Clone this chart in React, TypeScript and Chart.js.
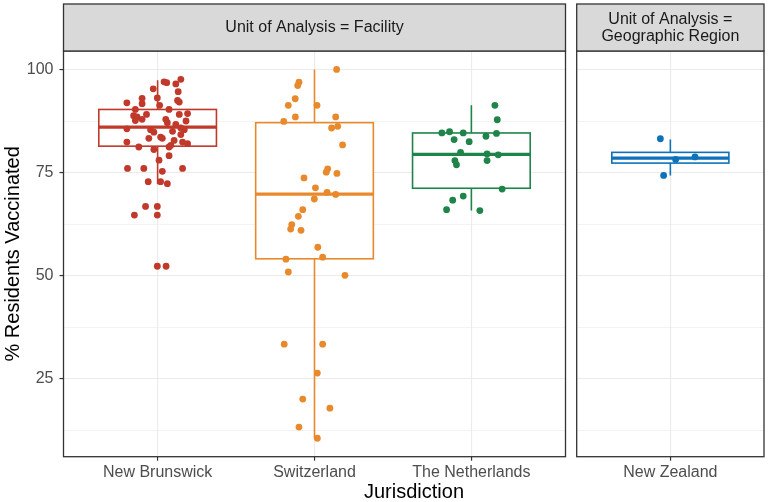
import React, { useEffect, useRef } from "react";
import { Chart, registerables } from "chart.js";

Chart.register(...registerables);

// ---------- data ----------
const facilityCategories = ["New Brunswick", "Switzerland", "The Netherlands"];
const regionCategories = ["New Zealand"];

const facilityStrip = ["Unit of Analysis = Facility"];
const regionStrip = ["Unit of Analysis =", "Geographic Region"];

const yTickValues = [12.5, 25, 37.5, 50, 62.5, 75, 87.5, 100];
const yTickLabels = ["", "25", "", "50", "", "75", "", "100"];

const newBrunswickValues = [
  97.0, 96.8, 96.5, 97.6, 95.3, 94.6, 93.0, 93.1, 91.9, 91.7,
  92.5, 92.1, 91.3, 90.3, 90.3, 89.1, 88.8, 88.5, 89.1, 89.3,
  87.9, 87.6, 87.9, 87.5, 87.1, 86.7, 85.6, 85.4, 85.0, 85.8,
  85.4, 84.8, 84.2, 83.3, 83.6, 83.3, 82.8, 82.4, 81.2, 81.2,
  81.6, 82.4, 82.0, 80.6, 79.1, 78.0, 76.0, 76.0, 76.0, 75.3,
  72.8, 72.8, 72.3, 66.8, 66.8, 64.7, 64.7, 52.3, 52.3,
];
const newBrunswickJitter = [
  0.041, 0.058, 0.116, 0.148, -0.028, 0.131, -0.099, -0.002, -0.196, -0.099,
  0.127, 0.138, 0.013, 0.073, -0.142, -0.071, -0.153, -0.131, 0.138, 0.191,
  -0.099, -0.142, 0.052, 0.181, 0.062, 0.116, -0.196, -0.045, 0.095, 0.148,
  0.17, -0.024, 0.148, -0.056, 0.019, 0.03, 0.105, -0.196, -0.12, 0.073,
  0.084, 0.159, 0.191, -0.024, 0.073, 0.009, -0.192, -0.088, 0.159, 0.03,
  -0.06, 0.019, 0.062, -0.077, -0.002, -0.148, -0.002, -0.002, 0.054,
];

const switzerlandValues = [
  100, 96.9, 96.1, 92.9, 91.3, 91.3, 88.5, 88.5, 87.4, 85.8,
  86.2, 81.7, 75.9, 75.1, 74.8, 73.7, 71.3, 70.2, 69.7, 68.6,
  66.0, 64.4, 62.4, 61.3, 61.0, 56.9, 54.0, 54.5, 50.9, 50.1,
  33.4, 33.4, 26.4, 20.1, 17.9, 13.3, 10.6,
];
const switzerlandJitter = [
  0.141, -0.099, -0.107, -0.123, -0.167, 0.016, -0.122, 0.135, -0.196, 0.109,
  0.148, 0.179, 0.084, 0.075, 0.143, -0.067, 0.006, 0.08, 0.135, -0.001,
  -0.075, -0.103, -0.145, -0.152, -0.086, 0.021, -0.182, 0.052, -0.167, 0.194,
  -0.193, 0.052, 0.018, -0.075, 0.098, -0.099, 0.018,
];

const netherlandsValues = [
  91.3, 87.8, 84.6, 84.9, 84.6, 84.5, 83.8, 83.0, 82.5, 79.9,
  79.5, 79.3, 77.9, 76.9, 77.9, 71.0, 69.3, 68.3, 66.0, 65.8,
];
const netherlandsJitter = [
  0.15, 0.165, -0.188, -0.139, -0.052, 0.16, 0.093, -0.11, -0.014, -0.069,
  0.1, 0.171, -0.105, -0.095, 0.1, 0.196, -0.052, -0.119, -0.158, 0.054,
];

const newZealandValues = [83.2, 78.2, 78.8, 74.3];
const newZealandJitter = [-0.064, 0.034, 0.158, -0.043];

// box stats: [lower whisker, Q1, median, Q3, upper whisker]
const newBrunswickBox = [72.2, 81.4, 86.0, 90.3, 97.4];
const switzerlandBox = [10.6, 54.1, 69.8, 87.1, 100];
const netherlandsBox = [65.8, 71.2, 79.4, 84.6, 91.3];
const newZealandBox = [74.3, 77.3, 78.5, 79.9, 83.0];

const facilityColors = ["#C0392B", "#E8892C", "#1E8449"];
const regionColors = ["#0E72BA"];

// ---------- styling ----------
const FONT = "'Liberation Sans', Arial, Helvetica, sans-serif";
const Y_MIN = 6.13;
const Y_MAX = 104.47;
const STRIP_TOP = 4;
const PANEL_TOP = 51;
const X_AXIS_H = 45.3;

function toPoints(values: number[], jitter: number[], idx: number) {
  return values.map((v, k) => ({ x: idx + jitter[k], y: v }));
}

function panelPlugin(stripLines: string[], boxes: number[][], colors: string[]) {
  return {
    id: "panelDecor",
    beforeDatasetsDraw(chart: any) {
      const { ctx } = chart;
      const x = chart.scales.x;
      const y = chart.scales.y;
      boxes.forEach((b, i) => {
        const [lo, q1, med, q3, hi] = b;
        const xl = x.getPixelForValue(i - 0.375);
        const xr = x.getPixelForValue(i + 0.375);
        const xc = x.getPixelForValue(i);
        const yq1 = y.getPixelForValue(q1);
        const yq3 = y.getPixelForValue(q3);
        const ym = y.getPixelForValue(med);
        ctx.save();
        ctx.strokeStyle = colors[i];
        ctx.lineWidth = 1.6;
        ctx.beginPath();
        ctx.moveTo(xc, yq3);
        ctx.lineTo(xc, y.getPixelForValue(hi));
        ctx.moveTo(xc, yq1);
        ctx.lineTo(xc, y.getPixelForValue(lo));
        ctx.stroke();
        ctx.fillStyle = "#ffffff";
        ctx.fillRect(xl, yq3, xr - xl, yq1 - yq3);
        ctx.strokeRect(xl, yq3, xr - xl, yq1 - yq3);
        ctx.lineWidth = 3.2;
        ctx.beginPath();
        ctx.moveTo(xl, ym);
        ctx.lineTo(xr, ym);
        ctx.stroke();
        ctx.restore();
      });
    },
    afterDraw(chart: any) {
      const { ctx, chartArea: a } = chart;
      ctx.save();
      ctx.strokeStyle = "#333333";
      ctx.lineWidth = 1.3;
      ctx.strokeRect(a.left, a.top, a.right - a.left, a.bottom - a.top);
      // strip
      ctx.fillStyle = "#d9d9d9";
      ctx.fillRect(a.left, STRIP_TOP, a.right - a.left, a.top - STRIP_TOP);
      ctx.strokeRect(a.left, STRIP_TOP, a.right - a.left, a.top - STRIP_TOP);
      ctx.fillStyle = "#1a1a1a";
      ctx.font = `16px ${FONT}`;
      ctx.textAlign = "center";
      ctx.textBaseline = "middle";
      const cx = (a.left + a.right) / 2;
      const cy = (STRIP_TOP + a.top) / 2 + 0.5;
      const lh = 17;
      stripLines.forEach((t, k) => {
        ctx.fillText(t, cx, cy + (k - (stripLines.length - 1) / 2) * lh);
      });
      ctx.restore();
    },
  };
}

function makeConfig(opts: {
  categories: string[];
  datasets: { values: number[]; jitter: number[]; color: string }[];
  boxes: number[][];
  colors: string[];
  strip: string[];
  showY: boolean;
  padLeft: number;
  padRight: number;
}): any {
  const { categories, showY } = opts;
  return {
    type: "scatter",
    data: {
      datasets: opts.datasets.map((d, i) => ({
        data: toPoints(d.values, d.jitter, i),
        backgroundColor: d.color,
        borderWidth: 0,
        pointRadius: 3.4,
        pointHoverRadius: 3.4,
      })),
    },
    options: {
      responsive: false,
      animation: false,
      devicePixelRatio: 1,
      layout: { padding: { top: PANEL_TOP, left: opts.padLeft, right: opts.padRight, bottom: 0 } },
      plugins: { legend: { display: false }, tooltip: { enabled: false }, title: { display: false } },
      scales: {
        x: {
          type: "linear",
          bounds: "data",
          min: -0.6,
          max: categories.length - 0.4,
          afterBuildTicks: (s: any) => {
            s.ticks = categories.map((_, i) => ({ value: i }));
          },
          afterFit: (s: any) => {
            s.height = X_AXIS_H;
          },
          ticks: {
            autoSkip: false,
            maxRotation: 0,
            callback: (_v: any, i: number) => categories[i],
            color: "#4d4d4d",
            font: { family: FONT, size: 16 },
            padding: 2,
          },
          grid: {
            color: "#ebebeb",
            lineWidth: 1.1,
            tickColor: "#333333",
            tickLength: 4,
            tickWidth: 1.2,
          },
          border: { display: false },
        },
        y: {
          type: "linear",
          bounds: "data",
          min: Y_MIN,
          max: Y_MAX,
          afterBuildTicks: (s: any) => {
            s.ticks = yTickValues.map((v) => ({ value: v }));
          },
          afterFit: (s: any) => {
            s.width = showY ? 63.5 - opts.padLeft : 0;
          },
          ticks: {
            display: showY,
            autoSkip: false,
            callback: (_v: any, i: number) => yTickLabels[i],
            color: "#4d4d4d",
            font: { family: FONT, size: 16 },
            padding: 6,
          },
          grid: {
            drawTicks: showY,
            color: "#ebebeb",
            lineWidth: (c: any) => (yTickLabels[c.index] ? 1.1 : 0.6),
            tickColor: (c: any) => (yTickLabels[c.index] ? "#333333" : "rgba(0,0,0,0)"),
            tickLength: 4,
            tickWidth: 1.2,
          },
          border: { display: false },
          title: {
            display: showY,
            text: "% Residents Vaccinated",
            color: "#000000",
            font: { family: FONT, size: 20 },
            padding: { top: 1, bottom: 0 },
          },
        },
      },
    },
    plugins: [panelPlugin(opts.strip, opts.boxes, opts.colors)],
  };
}

export default function App() {
  const leftRef = useRef<HTMLCanvasElement>(null);
  const rightRef = useRef<HTMLCanvasElement>(null);

  useEffect(() => {
    const left = new Chart(
      leftRef.current as HTMLCanvasElement,
      makeConfig({
        categories: facilityCategories,
        datasets: [
          { values: newBrunswickValues, jitter: newBrunswickJitter, color: facilityColors[0] },
          { values: switzerlandValues, jitter: switzerlandJitter, color: facilityColors[1] },
          { values: netherlandsValues, jitter: netherlandsJitter, color: facilityColors[2] },
        ],
        boxes: [newBrunswickBox, switzerlandBox, netherlandsBox],
        colors: facilityColors,
        strip: facilityStrip,
        showY: true,
        padLeft: 0,
        padRight: 4.5,
      })
    );
    const right = new Chart(
      rightRef.current as HTMLCanvasElement,
      makeConfig({
        categories: regionCategories,
        datasets: [{ values: newZealandValues, jitter: newZealandJitter, color: regionColors[0] }],
        boxes: [newZealandBox],
        colors: regionColors,
        strip: regionStrip,
        showY: false,
        padLeft: 8.7,
        padRight: 4,
      })
    );
    return () => {
      left.destroy();
      right.destroy();
    };
  }, []);

  return (
    <div
      style={{
        position: "fixed",
        left: 0,
        top: 0,
        width: 768,
        height: 502,
        background: "#ffffff",
        overflow: "hidden",
      }}
    >
      <canvas
        ref={leftRef}
        width={570}
        height={502}
        style={{ position: "absolute", left: 0, top: 0, width: 570, height: 502 }}
      />
      <canvas
        ref={rightRef}
        width={200}
        height={502}
        style={{ position: "absolute", left: 568, top: 0, width: 200, height: 502 }}
      />
      <div
        style={{
          position: "absolute",
          left: 63.5,
          width: 701,
          top: 479,
          textAlign: "center",
          fontFamily: FONT,
          fontSize: 20,
          lineHeight: "24px",
          color: "#000000",
        }}
      >
        Jurisdiction
      </div>
    </div>
  );
}
